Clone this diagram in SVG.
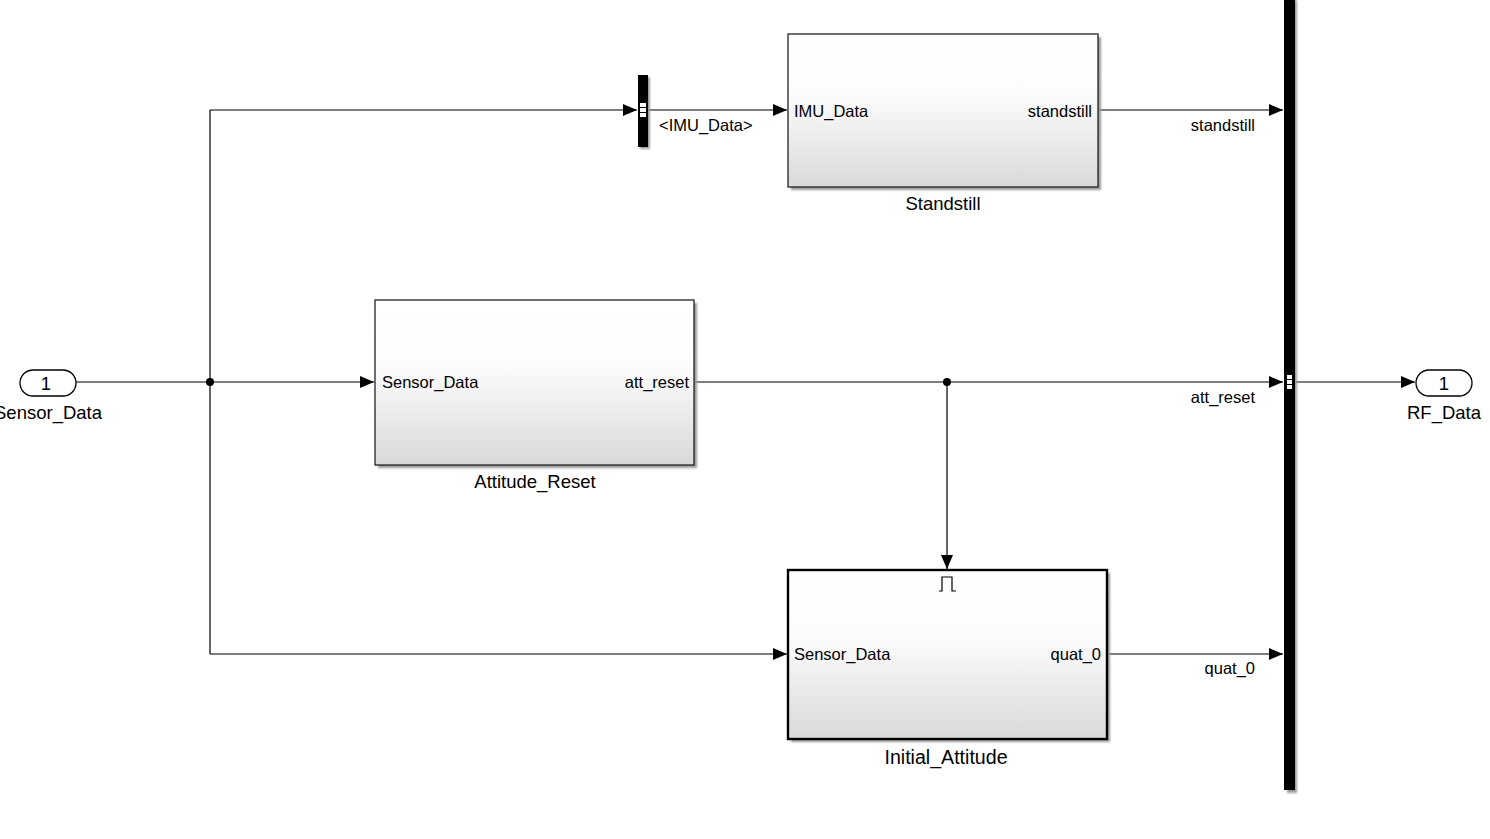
<svg xmlns="http://www.w3.org/2000/svg" width="1490" height="839" viewBox="0 0 1490 839">
<defs>
<linearGradient id="g" x1="0" y1="0" x2="0" y2="1">
<stop offset="0" stop-color="#ffffff"/>
<stop offset="0.4" stop-color="#fcfcfc"/>
<stop offset="1" stop-color="#d9d9d9"/>
</linearGradient>
<marker id="arr" markerWidth="14" markerHeight="12" refX="14" refY="6" orient="auto" markerUnits="userSpaceOnUse">
<path d="M0,0 L14,6 L0,12 Z" fill="#000"/>
</marker>
<filter id="sh" x="-5%" y="-5%" width="115%" height="115%">
<feGaussianBlur stdDeviation="1.2"/>
</filter>
</defs>
<style>
.ln{fill:none;stroke:#000;stroke-width:1.2}
.blk{fill:url(#g);stroke:#222;stroke-width:1.3}
.shd{fill:#9a9a9a;filter:url(#sh)}
.pt{font-family:"Liberation Sans",Arial,sans-serif;font-size:16.5px;fill:#000}
.nm{font-family:"Liberation Sans",Arial,sans-serif;font-size:18.5px;fill:#000}
.bar{fill:#000}
</style>
<rect width="1490" height="839" fill="#fff"/>

<g id="connectors">
<path class="ln" d="M76,382 H374" marker-end="url(#arr)"/>
<path class="ln" d="M210,110 V654"/>
<path class="ln" d="M210,110 H637" marker-end="url(#arr)"/>
<path class="ln" d="M648,110 H787" marker-end="url(#arr)"/>
<path class="ln" d="M1098,110 H1283" marker-end="url(#arr)"/>
<path class="ln" d="M694,382 H1283" marker-end="url(#arr)"/>
<path class="ln" d="M947,382 V569" marker-end="url(#arr)"/>
<path class="ln" d="M210,654 H787" marker-end="url(#arr)"/>
<path class="ln" d="M1107,654 H1283" marker-end="url(#arr)"/>
<path class="ln" d="M1295,382 H1415" marker-end="url(#arr)"/>
<circle cx="210" cy="382" r="4" fill="#000"/>
<circle cx="947" cy="382" r="4" fill="#000"/>
<text class="pt" x="659" y="131">&lt;IMU_Data&gt;</text>
<text class="pt" x="1255" y="131" text-anchor="end">standstill</text>
<text class="pt" x="1255" y="403" text-anchor="end">att_reset</text>
<text class="pt" x="1255" y="674" text-anchor="end">quat_0</text>
</g>

<g id="in_sensor_data">
<rect x="20" y="370" width="56" height="26" rx="13" fill="#fff" stroke="#000" stroke-width="1.3"/>
<text class="nm" x="46" y="390" text-anchor="middle">1</text>
<text class="nm" x="48" y="419" text-anchor="middle">Sensor_Data</text>
</g>

<g id="bus_selector">
<rect x="640" y="77" width="10" height="72" class="shd"/>
<rect x="638" y="75" width="10" height="72" class="bar"/>
<rect x="640" y="103" width="6" height="4" fill="#fff"/>
<rect x="640" y="108" width="6" height="4" fill="#fff"/>
<rect x="640" y="113" width="6" height="4" fill="#fff"/>
</g>

<g id="standstill">
<rect x="791" y="37" width="310" height="153" class="shd"/>
<rect x="788" y="34" width="310" height="153" class="blk"/>
<text class="pt" x="794" y="117">IMU_Data</text>
<text class="pt" x="1092" y="117" text-anchor="end">standstill</text>
<text class="nm" x="943" y="210" text-anchor="middle">Standstill</text>
</g>

<g id="attitude_reset">
<rect x="378" y="303" width="319" height="165" class="shd"/>
<rect x="375" y="300" width="319" height="165" class="blk"/>
<text class="pt" x="382" y="388">Sensor_Data</text>
<text class="pt" x="689" y="388" text-anchor="end">att_reset</text>
<text class="nm" x="535" y="488" text-anchor="middle">Attitude_Reset</text>
</g>

<g id="initial_attitude">
<rect x="791" y="573" width="319" height="169" class="shd"/>
<rect x="788" y="570" width="319" height="169" fill="url(#g)" stroke="#000" stroke-width="2.4"/>
<path d="M939,591 H942 V577 H952 V591 H956" fill="none" stroke="#000" stroke-width="1.2"/>
<text class="pt" x="794" y="660">Sensor_Data</text>
<text class="pt" x="1101" y="660" text-anchor="end">quat_0</text>
<text class="nm" x="946" y="764" text-anchor="middle" style="font-size:19.6px">Initial_Attitude</text>
</g>

<g id="bus_creator">
<rect x="1287" y="0" width="10" height="793" class="shd"/>
<rect x="1284" y="0" width="11" height="790" class="bar"/>
<rect x="1287" y="375" width="5" height="4" fill="#fff"/>
<rect x="1287" y="380" width="5" height="4" fill="#fff"/>
<rect x="1287" y="385" width="5" height="4" fill="#fff"/>
</g>

<g id="out_rf_data">
<rect x="1416" y="370" width="56" height="26" rx="13" fill="#fff" stroke="#000" stroke-width="1.3"/>
<text class="nm" x="1444" y="390" text-anchor="middle">1</text>
<text class="nm" x="1444" y="419" text-anchor="middle">RF_Data</text>
</g>
</svg>
